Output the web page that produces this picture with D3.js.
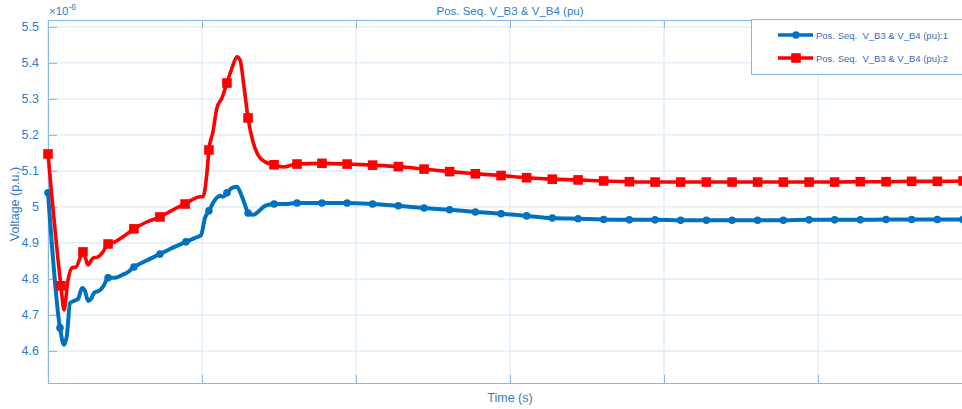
<!DOCTYPE html>
<html>
<head>
<meta charset="utf-8">
<script src="https://cdn.jsdelivr.net/npm/d3@7"></script>
<style>
  body { margin: 0; background: #fff; }
  svg { display: block; font-family: "Liberation Sans", Arial, sans-serif; }
  text { white-space: pre; }
</style>
</head>
<body>
<svg id="chart" width="962" height="409"></svg>
<script>
// series: [time (s), voltage (x1e-6 pu), marker flag]
const blue = [
  [0, 5.039, 1], [0.078, 4.664, 1], [0.104, 4.617, 0], [0.123, 4.644, 0], [0.143, 4.733, 0],
  [0.169, 4.739, 0], [0.195, 4.744, 0], [0.221, 4.775, 0], [0.240, 4.767, 0], [0.260, 4.739, 0],
  [0.279, 4.744, 0], [0.299, 4.761, 0], [0.338, 4.769, 0], [0.364, 4.783, 0], [0.390, 4.803, 1],
  [0.435, 4.803, 0], [0.481, 4.811, 0], [0.519, 4.819, 0], [0.558, 4.833, 1], [0.597, 4.842, 0],
  [0.649, 4.853, 0], [0.727, 4.869, 1], [0.792, 4.883, 0], [0.896, 4.903, 1], [0.955, 4.914, 0],
  [0.994, 4.922, 0], [1.019, 4.969, 0], [1.045, 4.989, 1], [1.084, 5.019, 0], [1.117, 5.031, 0],
  [1.136, 5.028, 0], [1.162, 5.039, 1], [1.195, 5.053, 0], [1.227, 5.056, 0], [1.247, 5.042, 0],
  [1.279, 5.006, 0], [1.299, 4.983, 1], [1.331, 4.978, 0], [1.364, 4.986, 0], [1.409, 5.003, 0],
  [1.468, 5.008, 1], [1.539, 5.008, 0], [1.617, 5.011, 1], [1.779, 5.011, 1], [1.942, 5.011, 1],
  [2.108, 5.008, 1], [2.275, 5.003, 1], [2.442, 4.997, 1], [2.608, 4.992, 1], [2.775, 4.986, 1],
  [2.942, 4.981, 1], [3.108, 4.975, 1], [3.275, 4.969, 1], [3.442, 4.967, 1], [3.608, 4.965, 1],
  [3.775, 4.964, 1], [3.942, 4.964, 1], [4.108, 4.963, 1], [4.275, 4.963, 1], [4.442, 4.963, 1],
  [4.608, 4.963, 1], [4.775, 4.963, 1], [4.942, 4.964, 1], [5.108, 4.964, 1], [5.275, 4.964, 1],
  [5.442, 4.965, 1], [5.608, 4.965, 1], [5.775, 4.965, 1], [5.942, 4.965, 1]
]

const red = [
  [0, 5.147, 1], [0.084, 4.781, 1], [0.104, 4.714, 0], [0.130, 4.797, 0], [0.156, 4.831, 0],
  [0.182, 4.833, 0], [0.208, 4.858, 0], [0.227, 4.875, 1], [0.247, 4.853, 0], [0.260, 4.839, 0],
  [0.292, 4.858, 0], [0.325, 4.861, 0], [0.357, 4.875, 0], [0.390, 4.897, 1], [0.435, 4.903, 0],
  [0.487, 4.917, 0], [0.558, 4.939, 1], [0.630, 4.956, 0], [0.727, 4.972, 1], [0.812, 4.992, 0],
  [0.890, 5.008, 1], [0.987, 5.028, 0], [1.006, 5.028, 0], [1.032, 5.094, 0], [1.045, 5.158, 1],
  [1.071, 5.208, 0], [1.097, 5.275, 0], [1.130, 5.303, 0], [1.162, 5.344, 1], [1.195, 5.386, 0],
  [1.227, 5.417, 0], [1.247, 5.408, 0], [1.273, 5.333, 0], [1.299, 5.247, 1], [1.331, 5.181, 0],
  [1.364, 5.144, 0], [1.409, 5.125, 0], [1.468, 5.117, 1], [1.526, 5.111, 0], [1.617, 5.119, 1],
  [1.779, 5.121, 1], [1.942, 5.119, 1], [2.108, 5.116, 1], [2.275, 5.112, 1], [2.442, 5.105, 1],
  [2.608, 5.098, 1], [2.775, 5.092, 1], [2.942, 5.087, 1], [3.108, 5.081, 1], [3.275, 5.077, 1],
  [3.442, 5.075, 1], [3.608, 5.072, 1], [3.775, 5.070, 1], [3.942, 5.069, 1], [4.108, 5.069, 1],
  [4.275, 5.069, 1], [4.442, 5.069, 1], [4.608, 5.069, 1], [4.775, 5.069, 1], [4.942, 5.069, 1],
  [5.108, 5.069, 1], [5.275, 5.070, 1], [5.442, 5.070, 1], [5.608, 5.071, 1], [5.775, 5.071, 1],
  [5.942, 5.072, 1]
]

const yTicks = [4.6, 4.7, 4.8, 4.9, 5, 5.1, 5.2, 5.3, 5.4, 5.5]
const xTicks = [0, 1, 2, 3, 4, 5, 6]
const seriesNames = ["Pos. Seq.  V_B3 & V_B4 (pu):1", "Pos. Seq.  V_B3 & V_B4 (pu):2"]
const seriesColors = ["#0072bd", "#ff0000"]

const plotLeft = 48, plotTop = 20, plotRight = 972, plotBottom = 383
const axisColor = "#86b8e6"
const gridColor = "#d3e5f6"
const textColor = "#2f7cc7"

const svg = d3.select('#chart')

const x = d3.scaleLinear().domain([0, 6]).range([plotLeft, plotRight])
const y = d3.scaleLinear().domain([4.511, 5.519]).range([plotBottom, plotTop])

// grid
svg.append('g')
  .selectAll('line')
  .data(xTicks)
  .join('line')
  .attr('x1', d => x(d)).attr('x2', d => x(d))
  .attr('y1', plotTop).attr('y2', plotBottom)
  .attr('stroke', gridColor)

svg.append('g')
  .selectAll('line')
  .data(yTicks)
  .join('line')
  .attr('x1', plotLeft).attr('x2', plotRight)
  .attr('y1', d => y(d)).attr('y2', d => y(d))
  .attr('stroke', gridColor)

// axes (ticks inward, no x labels)
const yAxis = svg.append('g')
  .attr('transform', `translate(${plotLeft},0)`)
  .call(d3.axisLeft(y).tickValues(yTicks).tickSize(-9).tickPadding(9).tickFormat(d3.format('')))
yAxis.select('.domain').attr('stroke', axisColor)
yAxis.selectAll('.tick line').attr('stroke', axisColor)
yAxis.selectAll('.tick text').attr('fill', textColor).attr('font-size', 12.5)
  .attr('font-family', '"Liberation Sans", Arial, sans-serif')

const xAxis = svg.append('g')
  .attr('transform', `translate(0,${plotBottom})`)
  .call(d3.axisBottom(x).tickValues(xTicks).tickSize(-8).tickFormat(''))
xAxis.select('.domain').attr('stroke', axisColor)
xAxis.selectAll('.tick line').attr('stroke', axisColor)

const xTop = svg.append('g')
  .attr('transform', `translate(0,${plotTop})`)
  .call(d3.axisTop(x).tickValues(xTicks).tickSize(-8).tickFormat(''))
xTop.select('.domain').attr('stroke', axisColor)
xTop.selectAll('.tick line').attr('stroke', axisColor)

// lines
const line = d3.line()
  .x(d => x(d[0]))
  .y(d => y(d[1]))
  .curve(d3.curveMonotoneX)

const plot = svg.append('g')

plot.append('path')
  .datum(blue)
  .attr('d', line)
  .attr('fill', 'none')
  .attr('stroke', seriesColors[0])
  .attr('stroke-width', 4)
  .attr('stroke-linejoin', 'round')

plot.selectAll('circle')
  .data(blue.filter(d => d[2]))
  .join('circle')
  .attr('cx', d => x(d[0]))
  .attr('cy', d => y(d[1]))
  .attr('r', 3.8)
  .attr('fill', seriesColors[0])

plot.append('path')
  .datum(red)
  .attr('d', line)
  .attr('fill', 'none')
  .attr('stroke', seriesColors[1])
  .attr('stroke-width', 3.6)
  .attr('stroke-linejoin', 'round')

plot.selectAll('rect')
  .data(red.filter(d => d[2]))
  .join('rect')
  .attr('x', d => x(d[0]) - 4.8)
  .attr('y', d => y(d[1]) - 4.8)
  .attr('width', 9.6)
  .attr('height', 9.6)
  .attr('fill', seriesColors[1])

// texts
svg.append('text')
  .attr('x', 510).attr('y', 15)
  .attr('text-anchor', 'middle')
  .attr('font-size', 11.5)
  .attr('fill', textColor)
  .text('Pos. Seq. V_B3 & V_B4 (pu)')

const exp = svg.append('text')
  .attr('x', 49).attr('y', 15)
  .attr('font-size', 11.5)
  .attr('fill', textColor)
exp.append('tspan').text('×10')
exp.append('tspan').attr('dy', -5).attr('font-size', 8.5).text('-6')

svg.append('text')
  .attr('x', 510).attr('y', 402)
  .attr('text-anchor', 'middle')
  .attr('font-size', 12.5)
  .attr('fill', textColor)
  .text('Time (s)')

svg.append('text')
  .attr('transform', 'translate(19,204) rotate(-90)')
  .attr('text-anchor', 'middle')
  .attr('font-size', 12.5)
  .attr('fill', textColor)
  .text('Voltage (p.u.)')

// legend
const legend = svg.append('g')
legend.append('rect')
  .attr('x', 751.5).attr('y', 19.5)
  .attr('width', 230).attr('height', 55)
  .attr('fill', '#fff')
  .attr('stroke', axisColor)

const rows = legend.selectAll('g')
  .data(seriesNames)
  .join('g')
  .attr('transform', (d, i) => `translate(0,${35 + i * 23})`)

rows.append('line')
  .attr('x1', 778).attr('x2', 813)
  .attr('stroke', (d, i) => seriesColors[i])
  .attr('stroke-width', 3.6)

rows.each(function (d, i) {
  const g = d3.select(this)
  if (i === 0) g.append('circle').attr('cx', 796).attr('r', 3.8).attr('fill', seriesColors[0])
  else g.append('rect').attr('x', 791.2).attr('y', -4.8).attr('width', 9.6).attr('height', 9.6).attr('fill', seriesColors[1])
})

rows.append('text')
  .attr('x', 816).attr('y', 3.5)
  .attr('font-size', 9.5)
  .attr('fill', '#2d6fb8')
  .text(d => d)
</script>
</body>
</html>
